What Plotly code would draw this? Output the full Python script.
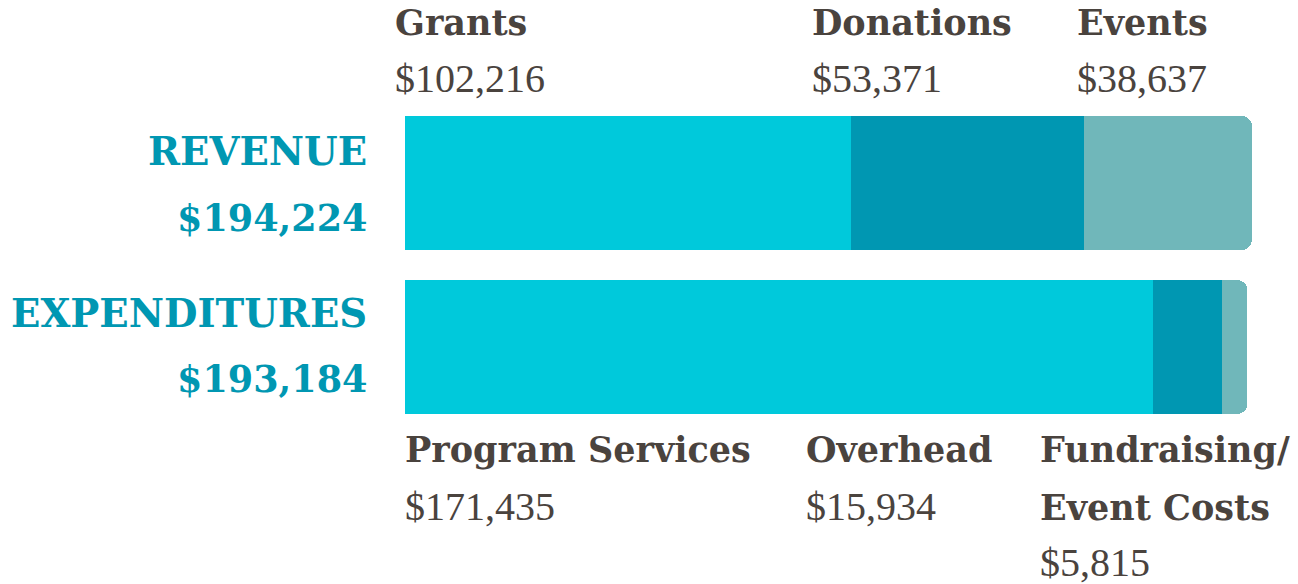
import plotly.graph_objects as go

rows = ["EXPENDITURES", "REVENUE"]
row_totals = ["$193,184", "$194,224"]
level1 = [171435, 102216]
level2 = [15934, 53371]
level3 = [5815, 38637]
names_rev = ["Grants", "Donations", "Events"]
names_exp = ["Program Services", "Overhead", "Fundraising/", "Event Costs"]
vals_rev = ["$102,216", "$53,371", "$38,637"]
vals_exp = ["$171,435", "$15,934", "$5,815"]
colors = ["#00c9db", "#0097b2", "#70b7ba"]

W, H = 1298, 584
PW, PH = 847, 328
L, T = 405, 101
R, B = W - L - PW, H - T - PH

def px(x):
    return (x - L) / PW

def py(y):
    return (T + PH - y) / PH

fig = go.Figure()
for vals, c in zip([level1, level2, level3], colors):
    fig.add_trace(go.Bar(y=[0, 1], x=vals, orientation="h", marker=dict(color=c, line=dict(width=0)),
                         width=134 / 164, hoverinfo="skip", showlegend=False))

GRAY = "#4a433e"
BLUE = "#0097b2"
BOLD = "DejaVu Serif"
REG = "Liberation Serif"
ann = []

def add(text, x, y_base, size, color, family, bold=False, anchor="left", adj=0):
    t = f"<b>{text}</b>" if bold else text
    dx = -1 if anchor == "left" else 1
    ann.append(dict(text=t, x=px(x + dx), y=py(y_base - 0.3 * size + adj), xref="paper", yref="paper",
                    xanchor=anchor, yanchor="middle", showarrow=False, borderpad=0,
                    font=dict(size=size, color=color, family=family)))

GB, NR = 35, 40
# top labels
for name, val, x in zip(names_rev, vals_rev, [395, 812, 1077]):
    add(name, x, 35, GB, GRAY, BOLD, bold=True, adj=-2)
    add(val, x, 92, NR, GRAY, REG, adj=-2)
# bottom labels
add(names_exp[0], 405, 462, GB, GRAY, BOLD, bold=True, adj=-2)
add(vals_exp[0], 405, 520, NR, GRAY, REG, adj=-2)
add(names_exp[1], 806, 462, GB, GRAY, BOLD, bold=True, adj=-2)
add(vals_exp[1], 806, 520, NR, GRAY, REG, adj=-2)
add(names_exp[2], 1040, 462, GB, GRAY, BOLD, bold=True, adj=-2)
add(names_exp[3], 1040, 520, GB, GRAY, BOLD, bold=True, adj=-2)
add(vals_exp[2], 1040, 576, NR, GRAY, REG, adj=-2)
# row labels
add(rows[1], 367, 166, 38.6, BLUE, BOLD, bold=True, anchor="right", adj=-3)
add(row_totals[1], 367, 232, 36.5, BLUE, BOLD, bold=True, anchor="right", adj=-3)
add(rows[0], 367, 328, 38.6, BLUE, BOLD, bold=True, anchor="right", adj=-3)
add(row_totals[0], 367, 393, 36.5, BLUE, BOLD, bold=True, anchor="right", adj=-3)

fig.update_layout(
    width=W, height=H, margin=dict(l=L, r=R, t=T, b=B, pad=0),
    barmode="stack", barcornerradius=10,
    plot_bgcolor="white", paper_bgcolor="white",
    xaxis=dict(range=[0, 194224], visible=False, fixedrange=True),
    yaxis=dict(range=[-0.5, 1.5], visible=False, fixedrange=True),
    annotations=ann,
)
fig.write_html("out.html", config={"displayModeBar": False},
               post_script="document.body.style.margin='0';document.body.style.overflow='hidden';")
